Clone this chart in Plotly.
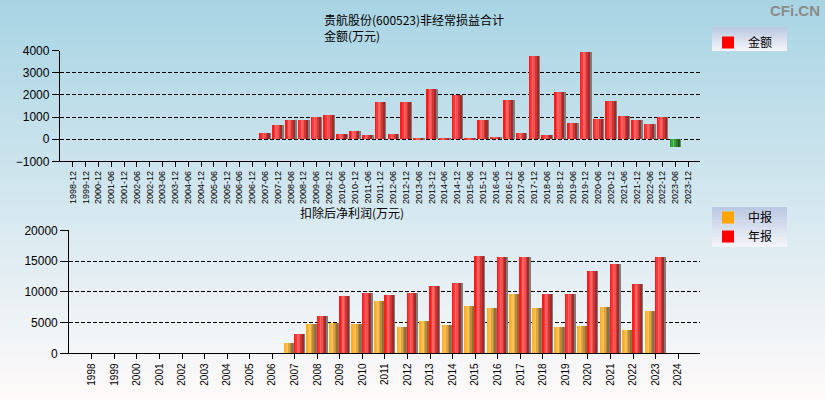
import plotly.graph_objects as go

# ---------------- data ----------------
top_categories = [
    "1998-12", "1999-12", "2000-12", "2001-06", "2001-12", "2002-06", "2002-12",
    "2003-06", "2003-12", "2004-06", "2004-12", "2005-06", "2005-12", "2006-06",
    "2006-12", "2007-06", "2007-12", "2008-06", "2008-12", "2009-06", "2009-12",
    "2010-06", "2010-12", "2011-06", "2011-12", "2012-06", "2012-12", "2013-06",
    "2013-12", "2014-06", "2014-12", "2015-06", "2015-12", "2016-06", "2016-12",
    "2017-06", "2017-12", "2018-06", "2018-12", "2019-06", "2019-12", "2020-06",
    "2020-12", "2021-06", "2021-12", "2022-06", "2022-12", "2023-06", "2023-12",
]
nonrecurring_values = [
    None, None, None, None, None, None, None, None, None, None, None, None, None, None, None,
    280, 640, 870, 870, 1000, 1100, 240, 370, 190, 1690, 240, 1690, 60,
    2290, 60, 2010, 60, 880, 100, 1790, 290, 3790, 200, 2150, 740, 3970, 920,
    1740, 1060, 880, 700, 1015, -350, None,
]

years = [str(y) for y in range(1998, 2025)]
interim_profit = [
    None, None, None, None, None, None, None, None, None,
    1680, 4770, 4930, 4770, 8510, 4280, 5260, 4610, 7700, 7370, 9650, 7370,
    4280, 4440, 7530, 3790, 6880, None,
]
annual_profit = [
    None, None, None, None, None, None, None, None, None,
    3140, 6070, 9320, 9810, 9490, 9810, 10950, 11440, 15830, 15660, 15660, 9650,
    9650, 13390, 14530, 11270, 15660, None,
]

top_tickvals = [-1000, 0, 1000, 2000, 3000, 4000]
bottom_tickvals = [0, 5000, 10000, 15000, 20000]

# ---------------- styles ----------------
W, H = 825, 400
ML, MR = 60, 125
PW = W - ML - MR
CJK = "Noto Sans CJK SC"
LAT = "Liberation Sans, Arial, sans-serif"

RED_STOPS = ["#ff1a1a", "#ff3636", "#ff6464", "#f45050", "#cf3737", "#a12a2a"]
ORANGE_STOPS = ["#ffac20", "#ffb838", "#fbc258", "#dca444", "#b88c3e", "#927138"]
GREEN_STOPS = ["#259625", "#38ab38", "#5cc25c", "#3c9a3c", "#2a7c2a", "#1d5e1d"]
SHADOW = "#7d7d7d"


def px_x(px):
    return (px - ML) / PW


def px_y(py):
    return 1 - py / H


fig = go.Figure()


def add_grad_bars(x, y, xa, ya, stops, base, off, w, sw, name=None, legend=None):
    fig.add_trace(go.Bar(
        x=x, y=y, xaxis=xa, yaxis=ya, offset=off + w, width=sw,
        marker=dict(color=SHADOW, line=dict(width=0)),
        showlegend=False, hoverinfo="skip"))
    fig.add_trace(go.Bar(
        x=x, y=y, xaxis=xa, yaxis=ya, offset=off, width=w,
        marker=dict(color=base, line=dict(width=0)),
        name=name if name else "", showlegend=name is not None,
        legend=legend if legend else "legend", hoverinfo="skip"))
    n = len(stops)
    for i, c in enumerate(stops):
        fig.add_trace(go.Bar(
            x=x, y=y, xaxis=xa, yaxis=ya, offset=off + i * w / n, width=w / n * 1.02,
            marker=dict(color=c, line=dict(width=0)),
            showlegend=False, hoverinfo="skip"))


pos_vals = [v if (v is not None and v >= 0) else None for v in nonrecurring_values]
neg_vals = [v if (v is not None and v < 0) else None for v in nonrecurring_values]

add_grad_bars(top_categories, pos_vals, "x", "y", RED_STOPS, "#ff0000",
              -0.41, 0.76, 0.09, name="金额", legend="legend")
add_grad_bars(top_categories, neg_vals, "x", "y", GREEN_STOPS, "#2e9e2e",
              -0.41, 0.76, 0.09)

add_grad_bars(years, interim_profit, "x2", "y2", ORANGE_STOPS, "#ffa500",
              -0.45, 0.40, 0.05, name="中报", legend="legend2")
add_grad_bars(years, annual_profit, "x2", "y2", RED_STOPS, "#ff0000",
              0.0, 0.40, 0.05, name="年报", legend="legend2")

# ---------------- background gradient ----------------
shapes = []
N = 80
c0 = (168, 212, 228)
c1 = (255, 250, 250)
for i in range(N):
    t = (i + 0.5) / N
    col = tuple(round(c0[k] + (c1[k] - c0[k]) * t) for k in range(3))
    y0 = i * H / N
    y1 = (i + 1) * H / N + 0.6
    shapes.append(dict(
        type="rect", xref="paper", yref="paper", layer="below",
        x0=px_x(0), x1=px_x(W), y0=px_y(min(y1, H)), y1=px_y(y0),
        fillcolor="rgb(%d,%d,%d)" % col, line=dict(width=0)))


def legend_box(px0, py0, px1, py1):
    M = 12
    l0 = (185, 199, 225)
    l1 = (246, 246, 250)
    for i in range(M):
        t = (i + 0.5) / M
        col = tuple(round(l0[k] + (l1[k] - l0[k]) * t) for k in range(3))
        ya = py0 + (py1 - py0) * i / M
        yb = py0 + (py1 - py0) * (i + 1) / M + 0.5
        shapes.append(dict(
            type="rect", xref="paper", yref="paper", layer="below",
            x0=px_x(px0), x1=px_x(px1), y0=px_y(min(yb, py1)), y1=px_y(ya),
            fillcolor="rgb(%d,%d,%d)" % col, line=dict(width=0)))


legend_box(712, 27, 787, 51)
legend_box(712, 207, 787, 247)

# ---------------- annotations ----------------
annotations = [
    dict(text="贵航股份(600523)非经常损益合计<br>金额(万元)", x=px_x(322), y=px_y(9),
         xref="paper", yref="paper", xanchor="left", yanchor="top", align="left",
         showarrow=False, font=dict(family=CJK, size=12, color="#000000")),
    dict(text="扣除后净利润(万元)", x=px_x(298), y=px_y(212),
         xref="paper", yref="paper", xanchor="left", yanchor="middle",
         showarrow=False, font=dict(family=CJK, size=12, color="#000000")),
    dict(text="<b>CFi.CN</b>", x=px_x(822), y=px_y(10),
         xref="paper", yref="paper", xanchor="right", yanchor="middle",
         showarrow=False, font=dict(family=LAT, size=15, color="#8c8c8c")),
]

axis_common = dict(
    showline=True, linecolor="#000000", linewidth=1.3, mirror=False,
    ticks="outside", tickcolor="#000000", tickwidth=1,
    zeroline=False, automargin=False,
)

fig.update_layout(
    width=W, height=H,
    margin=dict(l=ML, r=MR, t=0, b=0, pad=0, autoexpand=False),
    paper_bgcolor="#d4e8f0",
    plot_bgcolor="rgba(0,0,0,0)",
    barmode="overlay",
    bargap=0,
    font=dict(family=LAT, size=12, color="#000000"),
    shapes=shapes,
    annotations=annotations,
    xaxis=dict(
        axis_common, domain=[0, 1], anchor="y", type="category",
        categoryorder="array", categoryarray=top_categories,
        range=[-1, 48.93], tickangle=-90, ticklen=5,
        tickfont=dict(family=LAT, size=9, color="#000000"),
        showgrid=False,
    ),
    yaxis=dict(
        axis_common, domain=[px_y(161.3), px_y(50.7)], anchor="x",
        range=[-1000, 4000], tickvals=top_tickvals, ticklen=7,
        tickformat="d",
        tickfont=dict(family=LAT, size=12, color="#000000"),
        showgrid=True, gridcolor="#000000", gridwidth=1, griddash="4px,2px",
    ),
    xaxis2=dict(
        axis_common, domain=[px_x(69.3), 1], anchor="y2", type="category",
        categoryorder="array", categoryarray=years,
        range=[-1, 26.97], tickangle=-90, ticklen=5,
        tickfont=dict(family=LAT, size=10, color="#000000"),
        showgrid=False,
    ),
    yaxis2=dict(
        axis_common, domain=[px_y(353.3), px_y(230.3)], anchor="x2",
        range=[0, 20000], tickvals=bottom_tickvals, ticklen=8,
        tickformat="d",
        tickfont=dict(family=LAT, size=12, color="#000000"),
        showgrid=True, gridcolor="#000000", gridwidth=1, griddash="4px,2px",
    ),
    legend=dict(
        x=px_x(708), y=px_y(28), xanchor="left", yanchor="top",
        bgcolor="rgba(0,0,0,0)", borderwidth=0,
        font=dict(family=CJK, size=12, color="#000000"), itemwidth=30,
    ),
    legend2=dict(
        x=px_x(708), y=px_y(203), xanchor="left", yanchor="top",
        bgcolor="rgba(0,0,0,0)", borderwidth=0, tracegroupgap=0,
        font=dict(family=CJK, size=12, color="#000000"), itemwidth=30,
    ),
    hovermode=False,
)

fig.write_html(
    "out.html",
    config={"displayModeBar": False},
    post_script="document.body.style.margin='0';document.body.style.overflow='hidden';",
)
